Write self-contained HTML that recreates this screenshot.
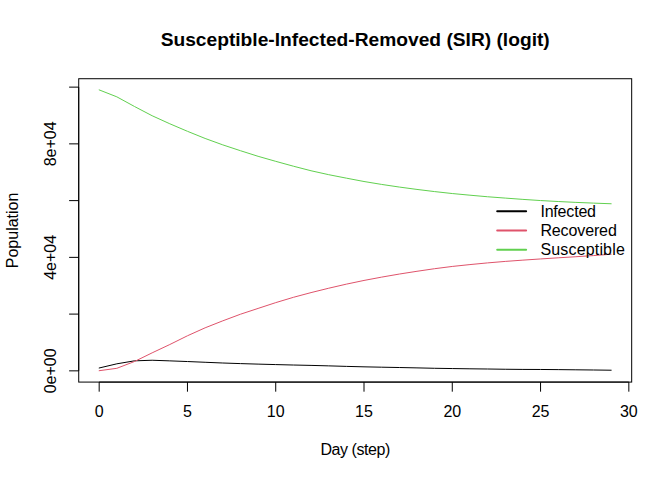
<!DOCTYPE html>
<html><head><meta charset="utf-8"><style>html,body{margin:0;padding:0;background:#fff;}svg{display:block;}</style></head>
<body><svg width="672" height="480" viewBox="0 0 672 480">
<rect width="672" height="480" fill="#fff"/>
<rect x="78.72" y="78.72" width="552.96" height="303.36" fill="none" stroke="#000" stroke-width="1"/>
<path d="M78.72,370.85V87.13M78.72,370.85H69.12M78.72,314.10H69.12M78.72,257.36H69.12M78.72,200.61H69.12M78.72,143.87H69.12M78.72,87.13H69.12" stroke="#000" stroke-width="1" fill="none"/>
<path d="M99.18,382.08H628.84M99.18,382.08V391.68M187.46,382.08V391.68M275.73,382.08V391.68M364.01,382.08V391.68M452.28,382.08V391.68M540.56,382.08V391.68M628.84,382.08V391.68" stroke="#000" stroke-width="1" fill="none"/>
<text x="99.18" y="416.5" text-anchor="middle" font-size="16" font-family="'Liberation Sans', sans-serif">0</text>
<text x="187.46" y="416.5" text-anchor="middle" font-size="16" font-family="'Liberation Sans', sans-serif">5</text>
<text x="275.73" y="416.5" text-anchor="middle" font-size="16" font-family="'Liberation Sans', sans-serif">10</text>
<text x="364.01" y="416.5" text-anchor="middle" font-size="16" font-family="'Liberation Sans', sans-serif">15</text>
<text x="452.28" y="416.5" text-anchor="middle" font-size="16" font-family="'Liberation Sans', sans-serif">20</text>
<text x="540.56" y="416.5" text-anchor="middle" font-size="16" font-family="'Liberation Sans', sans-serif">25</text>
<text x="628.84" y="416.5" text-anchor="middle" font-size="16" font-family="'Liberation Sans', sans-serif">30</text>
<text transform="translate(55.5,370.85) rotate(-90)" x="0" y="0" text-anchor="middle" font-size="16" font-family="'Liberation Sans', sans-serif">0e+00</text>
<text transform="translate(55.5,257.36) rotate(-90)" x="0" y="0" text-anchor="middle" font-size="16" font-family="'Liberation Sans', sans-serif">4e+04</text>
<text transform="translate(55.5,143.87) rotate(-90)" x="0" y="0" text-anchor="middle" font-size="16" font-family="'Liberation Sans', sans-serif">8e+04</text>
<text x="355.4" y="454.6" text-anchor="middle" textLength="69.9" font-size="16" font-family="'Liberation Sans', sans-serif">Day (step)</text>
<text transform="translate(17.6,230.4) rotate(-90)" text-anchor="middle" font-size="16" font-family="'Liberation Sans', sans-serif">Population</text>
<text x="355.2" y="45.8" text-anchor="middle" font-size="19.2" font-weight="bold" font-family="'Liberation Sans', sans-serif">Susceptible-Infected-Removed (SIR) (logit)</text>
<polyline points="99.18,368.00 116.84,363.82 134.49,360.83 152.15,360.25 169.80,360.87 187.46,361.54 205.11,362.28 222.77,363.00 240.42,363.60 258.08,364.12 275.73,364.59 293.39,365.03 311.04,365.40 328.70,365.87 346.35,366.39 364.01,366.84 381.66,367.19 399.32,367.53 416.97,367.89 434.63,368.29 452.28,368.56 469.94,368.81 487.59,369.01 505.25,369.25 522.90,369.42 540.56,369.48 558.22,369.62 575.87,369.80 593.53,369.99 611.18,370.22" fill="none" stroke="#000" stroke-width="1" stroke-linecap="round" stroke-linejoin="round"/>
<polyline points="99.18,370.70 116.84,368.30 134.49,361.50 152.15,352.84 169.80,344.52 187.46,335.77 205.11,327.82 222.77,320.83 240.42,314.24 258.08,308.42 275.73,302.63 293.39,297.32 311.04,292.60 328.70,288.23 346.35,284.15 364.01,280.44 381.66,277.11 399.32,274.06 416.97,271.29 434.63,268.70 452.28,266.45 469.94,264.58 487.59,262.90 505.25,261.41 522.90,260.13 540.56,258.95 558.22,257.80 575.87,256.73 593.53,255.57 611.18,254.23" fill="none" stroke="#DF536B" stroke-width="1" stroke-linecap="round" stroke-linejoin="round"/>
<polyline points="99.18,89.90 116.84,96.83 134.49,106.49 152.15,115.74 169.80,123.77 187.46,131.31 205.11,138.45 222.77,144.86 240.42,150.70 258.08,156.30 275.73,161.33 293.39,166.20 311.04,170.75 328.70,174.68 346.35,178.15 364.01,181.50 381.66,184.43 399.32,187.06 416.97,189.43 434.63,191.58 452.28,193.54 469.94,195.20 487.59,196.75 505.25,198.09 522.90,199.38 540.56,200.55 558.22,201.52 575.87,202.38 593.53,203.12 611.18,203.76" fill="none" stroke="#61D04F" stroke-width="1" stroke-linecap="round" stroke-linejoin="round"/>
<line x1="497.2" y1="211.30" x2="526.1" y2="211.30" stroke="#000" stroke-width="2" stroke-linecap="round"/>
<text x="540.4" y="216.90" textLength="55.6" font-size="16" font-family="'Liberation Sans', sans-serif">Infected</text>
<line x1="497.2" y1="230.50" x2="526.1" y2="230.50" stroke="#DF536B" stroke-width="2" stroke-linecap="round"/>
<text x="540.4" y="236.10" textLength="76.4" font-size="16" font-family="'Liberation Sans', sans-serif">Recovered</text>
<line x1="497.2" y1="249.70" x2="526.1" y2="249.70" stroke="#61D04F" stroke-width="2" stroke-linecap="round"/>
<text x="540.4" y="255.30" textLength="84.4" font-size="16" font-family="'Liberation Sans', sans-serif">Susceptible</text>
</svg></body></html>
